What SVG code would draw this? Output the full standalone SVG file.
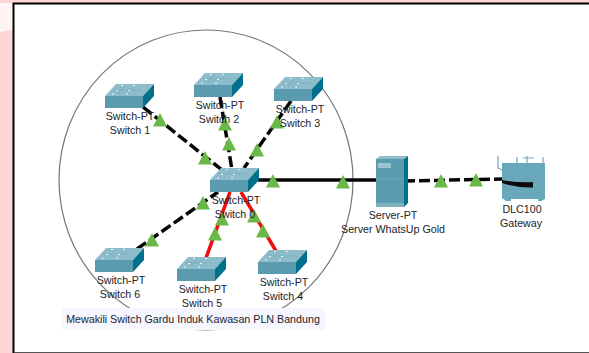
<svg xmlns="http://www.w3.org/2000/svg" width="589" height="353" viewBox="0 0 589 353">
<style>
text{font-family:"Liberation Sans",Arial,sans-serif;font-size:10.7px;fill:#23232b;text-anchor:middle}
.c{fill:none;stroke-width:3.5}
.k{stroke:#050505}
.d{stroke-dasharray:11 4}
.r{stroke:#f00c0c}
</style>
<defs>
<g id="sw">
<path d="M0 0L11-12H49L38 0Z" fill="#8dbccb"/>
<path d="M38 0L49-12V0L38 12Z" fill="#00708c"/>
<rect x="0" y="0" width="38" height="12" fill="#5a9bb0"/>
<path d="M9-6H36M20-10L14-2" stroke="#74a8ba" stroke-width=".6" fill="none"/>
<path d="M16-10.500h2M28-10.500h2M11-5.500h2M23-5.500h2M7-2h2M21-2h2" stroke="#eef5f7" stroke-width="1"/>
</g>
<path id="t" d="M0-7L7 6.500H-7Z" fill="#69b848"/>
</defs>
<rect width="589" height="353" fill="#fff"/>
<path d="M0 0H589V3H13V353H0Z" fill="#fdd5d5"/>
<path d="M0 3H13V30L0 32Z" fill="#fff3f3"/>
<path d="M13.500 353V3.500H589" fill="none" stroke="#000" stroke-width="2"/>
<path d="M14 352.500H589" stroke="#555" stroke-width="1"/>
<ellipse cx="206" cy="180" rx="147" ry="150" fill="none" stroke="#777" stroke-width="1.200"/>
<g id="connectors">
<path class="c k d" d="M143 107L222 170"/>
<path class="c k d" d="M220 97L232 170"/>
<path class="c k d" d="M291 101L244 168"/>
<path class="c k" d="M258 180H376"/>
<path class="c k d" d="M404 181L502 179"/>
<path class="c k d" d="M137 249L218 192"/>
<path class="c r" d="M206 258L230 192"/>
<path class="c r" d="M276 251L241 192"/>
<use href="#t" x="160" y="120"/>
<use href="#t" x="205" y="158"/>
<use href="#t" x="225" y="124"/>
<use href="#t" x="229" y="144"/>
<use href="#t" x="277" y="122"/>
<use href="#t" x="257" y="150"/>
<use href="#t" x="273" y="181"/>
<use href="#t" x="343" y="182"/>
<use href="#t" x="441" y="181"/>
<use href="#t" x="476" y="180"/>
<use href="#t" x="203" y="203"/>
<use href="#t" x="152" y="240"/>
<use href="#t" x="222" y="219"/>
<use href="#t" x="215" y="234"/>
<use href="#t" x="254" y="216"/>
<use href="#t" x="263" y="231"/>
</g>
<g id="switch-1"><use href="#sw" x="105" y="96"/><text x="130" y="120">Switch-PT</text><text x="130" y="134">Switch 1</text></g>
<g id="switch-2"><use href="#sw" x="194" y="85"/><text x="220" y="109">Switch-PT</text><text x="219" y="123">Switch 2</text></g>
<g id="switch-3"><use href="#sw" x="274" y="89"/><text x="300" y="113">Switch-PT</text><text x="300" y="127">Switch 3</text></g>
<g id="switch-0"><use href="#sw" x="210" y="180"/><text x="236" y="204">Switch-PT</text><text x="235" y="218">Switch 0</text></g>
<g id="switch-6"><use href="#sw" x="95" y="260"/><text x="121" y="284">Switch-PT</text><text x="120" y="298">Switch 6</text></g>
<g id="switch-5"><use href="#sw" x="177" y="269"/><text x="203" y="293">Switch-PT</text><text x="202" y="307">Switch 5</text></g>
<g id="switch-4"><use href="#sw" x="258" y="262"/><text x="284" y="286">Switch-PT</text><text x="283" y="300">Switch 4</text></g>
<g id="server">
<path d="M376 159L380 156H408L404 159Z" fill="#8fbccb"/>
<path d="M404 159L408 156V203L404 207Z" fill="#00708c"/>
<rect x="376" y="159" width="28" height="48" fill="#5a9bb0"/>
<rect x="378" y="163" width="13" height="5" fill="#9cc5d2"/>
<path d="M376 179H404" stroke="#7fb0c0" stroke-width=".7"/>
<rect x="376" y="203" width="28" height="4" fill="#7fb0c0"/>
<text x="393" y="219">Server-PT</text><text x="393" y="233">Server WhatsUp Gold</text>
</g>
<g id="gateway">
<path d="M498 156V168L502 170M517 157V163M527 156V163M543 157V163M523 158H534" stroke="#6fa9bb" stroke-width="1.200" fill="none"/>
<path d="M502 163H545V199L541 201H538V199H511V201H506L502 198Z" fill="#69a8ba"/>
<path d="M502 180Q516 183 533 182V187.500Q516 188 502 183Z" fill="#0b0b0b"/>
<text x="522" y="213">DLC100</text><text x="521" y="227">Gateway</text>
</g>
<g id="note">
<rect x="62" y="308" width="263" height="22" fill="#f6f6ff"/>
<text x="193" y="323">Mewakili Switch Gardu Induk Kawasan PLN Bandung</text>
</g>
</svg>
